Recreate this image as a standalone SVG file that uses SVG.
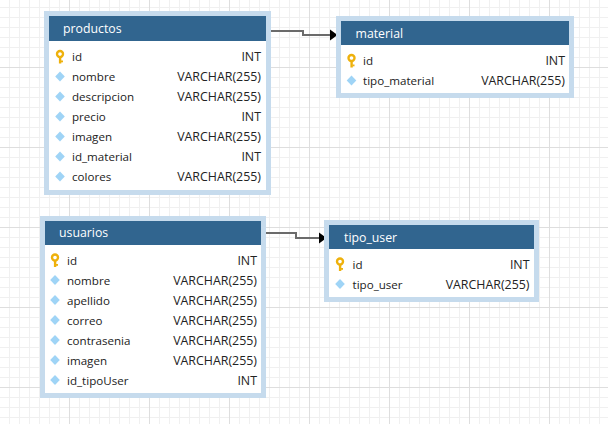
<svg xmlns="http://www.w3.org/2000/svg" width="608" height="424" viewBox="0 0 608 424">
<style>
.outer{fill:#c6dbed}
.body{fill:#ffffff}
.head{fill:#31658f}
.title{font-family:"Open Sans","Liberation Sans",Arial,sans-serif;font-size:12.3px;fill:#ffffff}
.f{font-family:"Open Sans","Liberation Sans",Arial,sans-serif;font-size:11.6px;fill:#222222}
.t{font-family:"Open Sans","Liberation Sans",Arial,sans-serif;font-size:12.4px;fill:#222222;text-anchor:end}
.dia{fill:#9fd4f6}
.conn{fill:none;stroke:#6b6b6b;stroke-width:2}
.arrow{fill:#000000}
</style>
<defs>
<pattern id="grid" x="69" y="67" width="80" height="80" patternUnits="userSpaceOnUse">
<path d="M10.5 0V80M20.5 0V80M30.5 0V80M40.5 0V80M50.5 0V80M60.5 0V80M70.5 0V80M0 10.5H80M0 20.5H80M0 30.5H80M0 40.5H80M0 50.5H80M0 60.5H80M0 70.5H80" stroke="#f0f0f0" stroke-width="1" fill="none"/>
<path d="M0.5 0V80M0 0.5H80" stroke="#dedede" stroke-width="1" fill="none"/>
</pattern>
<g id="key">
<circle cx="0" cy="-2.5" r="3" fill="none" stroke="#eeb10c" stroke-width="2.4"/>
<rect x="-1.1" y="0" width="2.4" height="7" fill="#eeb10c"/>
<rect x="1" y="4" width="2" height="1.8" fill="#eeb10c"/>
</g>
<path id="diam" d="M0 -5L4.8 0L0 5L-4.8 0Z"/>
</defs>
<rect width="608" height="424" fill="#ffffff"/>
<rect width="608" height="424" fill="url(#grid)"/>

<g id="connectors">
<path class="conn" d="M271 31H303V35H330"/>
<polygon class="arrow" points="330,29.5 337.5,35 330,40.5"/>
<path class="conn" d="M266 233H296V238H319"/>
<polygon class="arrow" points="319,232.5 326.5,238 319,243.5"/>
</g>

<g id="productos">
<rect class="outer" x="44" y="11" width="227" height="184"/>
<rect class="body" x="49" y="16" width="217" height="174"/>
<rect class="head" x="49" y="16" width="217" height="25"/>
<text class="title" x="63" y="33">productos</text>
<use href="#key" x="60" y="56.5"/>
<text class="f" x="72" y="61">id</text><text class="t" x="261" y="61">INT</text>
<use href="#diam" class="dia" x="60" y="76.5"/>
<text class="f" x="72" y="81">nombre</text><text class="t" x="261" y="81">VARCHAR(255)</text>
<use href="#diam" class="dia" x="60" y="96.5"/>
<text class="f" x="72" y="101">descripcion</text><text class="t" x="261" y="101">VARCHAR(255)</text>
<use href="#diam" class="dia" x="60" y="116.5"/>
<text class="f" x="72" y="121">precio</text><text class="t" x="261" y="121">INT</text>
<use href="#diam" class="dia" x="60" y="136.5"/>
<text class="f" x="72" y="141">imagen</text><text class="t" x="261" y="141">VARCHAR(255)</text>
<use href="#diam" class="dia" x="60" y="156.5"/>
<text class="f" x="72" y="161">id_material</text><text class="t" x="261" y="161">INT</text>
<use href="#diam" class="dia" x="60" y="176.5"/>
<text class="f" x="72" y="181">colores</text><text class="t" x="261" y="181">VARCHAR(255)</text>
</g>

<g id="material">
<rect class="outer" x="336" y="16" width="238" height="82"/>
<rect class="body" x="341" y="21" width="228" height="72"/>
<rect class="head" x="341" y="21" width="228" height="24"/>
<text class="title" x="355.5" y="37.5">material</text>
<use href="#key" x="351.5" y="60.5"/>
<text class="f" x="363" y="65">id</text><text class="t" x="565" y="65">INT</text>
<use href="#diam" class="dia" x="351.5" y="80.5"/>
<text class="f" x="363" y="85">tipo_material</text><text class="t" x="565" y="85">VARCHAR(255)</text>
</g>

<g id="usuarios">
<rect class="outer" x="40" y="216" width="226" height="182"/>
<rect class="body" x="45" y="221" width="216" height="172"/>
<rect class="head" x="45" y="221" width="216" height="24"/>
<text class="title" x="59" y="237">usuarios</text>
<use href="#key" x="55" y="260"/>
<text class="f" x="67" y="264.5">id</text><text class="t" x="257" y="264.5">INT</text>
<use href="#diam" class="dia" x="55" y="280"/>
<text class="f" x="67" y="284.5">nombre</text><text class="t" x="257" y="284.5">VARCHAR(255)</text>
<use href="#diam" class="dia" x="55" y="300"/>
<text class="f" x="67" y="304.5">apellido</text><text class="t" x="257" y="304.5">VARCHAR(255)</text>
<use href="#diam" class="dia" x="55" y="320"/>
<text class="f" x="67" y="324.5">correo</text><text class="t" x="257" y="324.5">VARCHAR(255)</text>
<use href="#diam" class="dia" x="55" y="340"/>
<text class="f" x="67" y="344.5">contrasenia</text><text class="t" x="257" y="344.5">VARCHAR(255)</text>
<use href="#diam" class="dia" x="55" y="360"/>
<text class="f" x="67" y="364.5">imagen</text><text class="t" x="257" y="364.5">VARCHAR(255)</text>
<use href="#diam" class="dia" x="55" y="380"/>
<text class="f" x="67" y="384.5">id_tipoUser</text><text class="t" x="257" y="384.5">INT</text>
</g>

<g id="tipo_user">
<rect class="outer" x="324" y="220" width="215" height="82"/>
<rect class="body" x="329" y="225" width="205" height="72"/>
<rect class="head" x="329" y="225" width="205" height="24"/>
<text class="title" x="344" y="241.5">tipo_user</text>
<use href="#key" x="340" y="264"/>
<text class="f" x="352.5" y="268.5">id</text><text class="t" x="529.5" y="268.5">INT</text>
<use href="#diam" class="dia" x="340" y="284"/>
<text class="f" x="352.5" y="288.5">tipo_user</text><text class="t" x="529.5" y="288.5">VARCHAR(255)</text>
</g>
</svg>
